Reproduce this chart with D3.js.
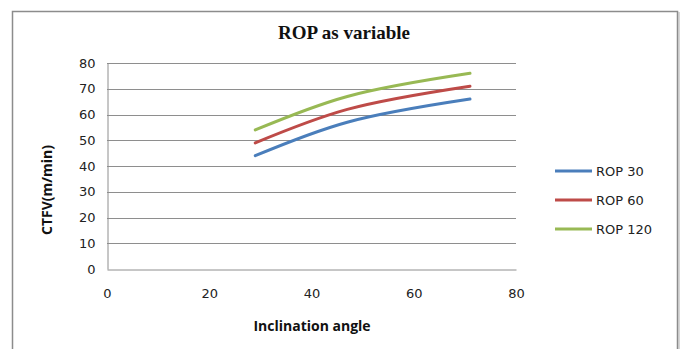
<!DOCTYPE html>
<html><head><meta charset="utf-8">
<script src="https://cdn.jsdelivr.net/npm/d3@7"></script>
<style>body{margin:0;background:#fff}svg{display:block}</style>
</head><body>
<svg id="c" width="686" height="349"></svg>
<script>
const angles = [29, 47, 71];
const rop30 = [44, 57, 66];
const rop60 = [49, 62, 71];
const rop120 = [54, 67, 76];
const seriesNames = ["ROP 30", "ROP 60", "ROP 120"];
const seriesColors = ["#4a7ebb", "#be4b48", "#98b954"];
const xTicks = [0, 20, 40, 60, 80];
const yTicks = [0, 10, 20, 30, 40, 50, 60, 70, 80];
const series = [rop30, rop60, rop120];

const svg = d3.select("#c");
const x = d3.scaleLinear().domain([0, 80]).range([107, 516]);
const y = d3.scaleLinear().domain([0, 80]).range([269, 63]);

// outer border
svg.append("path").attr("d", "M12.5,349 V11.5 H677.5 V349").attr("fill", "none").attr("stroke", "#8c8c8c").attr("stroke-width", 1.5);
svg.append("line").attr("x1", 679).attr("x2", 679).attr("y1", 12).attr("y2", 349).attr("stroke", "#b0b0b0").attr("stroke-width", 1);

// gridlines
svg.append("g").selectAll("line").data(yTicks.filter(d => d > 0)).join("line")
  .attr("x1", x(0)).attr("x2", x(80)).attr("y1", d => Math.round(y(d)) + 0.5).attr("y2", d => Math.round(y(d)) + 0.5)
  .attr("stroke", "#8e8e8e").attr("stroke-width", 1);

// axes
const yAxis = d3.axisLeft(y).tickValues(yTicks).tickSize(0).tickPadding(12);
const gy = svg.append("g").attr("transform", `translate(${x(0) + 0.5},0)`).call(yAxis);
gy.select(".domain").attr("stroke", "#8e8e8e");
gy.selectAll("text").attr("font-family", "DejaVu Sans").attr("font-size", 13).attr("fill", "#222");

const xAxis = d3.axisBottom(x).tickValues(xTicks).tickSize(0).tickPadding(19);
const gx = svg.append("g").attr("transform", `translate(0,${y(0) + 0.5})`).call(xAxis);
gx.select(".domain").attr("stroke", "#8e8e8e");
gx.selectAll("text").attr("font-family", "DejaVu Sans").attr("font-size", 13).attr("fill", "#222");

// lines
const line = d3.line().x((d, i) => x(angles[i])).y(d => y(d)).curve(d3.curveCatmullRom.alpha(0.5));
series.forEach((s, k) => {
  svg.append("path").datum(s).attr("d", line).attr("fill", "none")
    .attr("stroke", seriesColors[k]).attr("stroke-width", 3).attr("stroke-linecap", "round").attr("stroke-linejoin", "round");
});

// title
svg.append("text").attr("x", 344).attr("y", 39).attr("text-anchor", "middle")
  .attr("font-family", "Liberation Serif").attr("font-weight", "bold").attr("font-size", 19).attr("fill", "#111")
  .text("ROP as variable");

// axis titles
svg.append("text").attr("x", 312).attr("y", 331).attr("text-anchor", "middle")
  .attr("font-family", "Open Sans").attr("font-weight", "bold").attr("font-size", 14).attr("fill", "#111")
  .text("Inclination angle");
svg.append("text").attr("transform", "translate(52,190) rotate(-90)").attr("text-anchor", "middle")
  .attr("font-family", "Open Sans").attr("font-weight", "bold").attr("font-size", 14).attr("fill", "#111")
  .text("CTFV(m/min)");

// legend
const lg = svg.append("g").selectAll("g").data(seriesNames).join("g")
  .attr("transform", (d, i) => `translate(555,${171 + i * 29})`);
lg.append("line").attr("x1", 0).attr("x2", 37).attr("stroke", (d, i) => seriesColors[i]).attr("stroke-width", 3);
lg.append("text").attr("x", 41).attr("y", 5).attr("font-family", "DejaVu Sans").attr("font-size", 13).attr("fill", "#222").text(d => d);
</script>
</body></html>
